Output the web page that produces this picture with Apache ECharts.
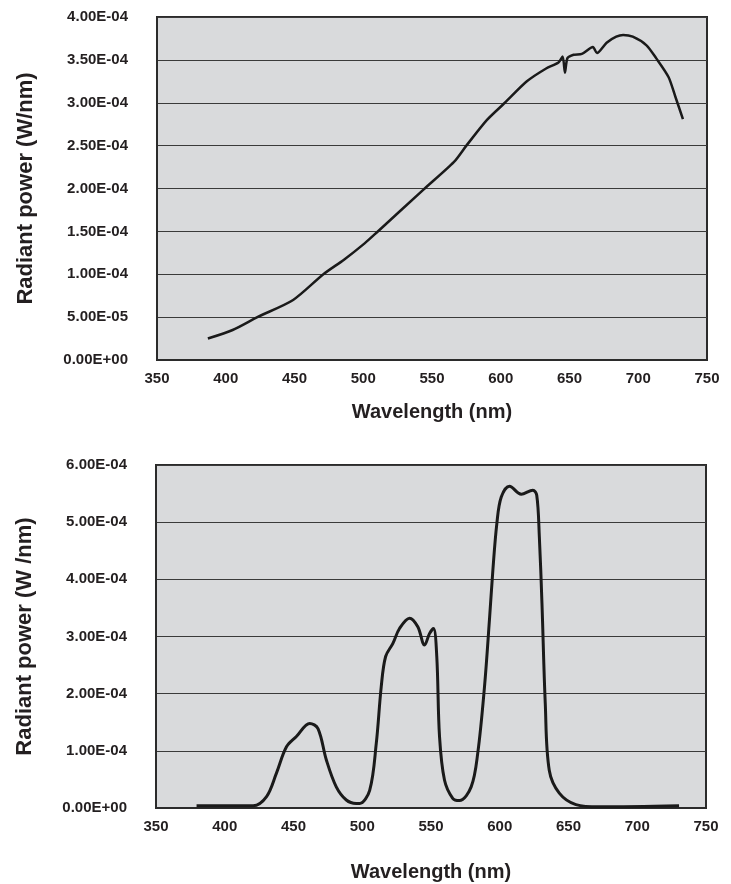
<!DOCTYPE html>
<html>
<head>
<meta charset="utf-8">
<script src="https://cdn.jsdelivr.net/npm/echarts@6/dist/echarts.min.js"></script>
<style>
  html, body { margin: 0; padding: 0; background: #fff; }
  #chart { width: 731px; height: 884px; }
</style>
</head>
<body>
<div id="chart"></div>
<script>
// power values are in units of 1e-4 W/nm
const SCALE = 1e-4;

// top: broadband (incandescent-like) spectrum
const topWave  = [387, 405, 423, 449, 471, 486, 501, 510, 544, 566, 575, 590, 603, 619, 633, 642, 645, 646.7, 648.5, 653, 659, 667, 670, 677, 684, 689, 696, 706, 713, 722, 727, 732.5];
const topPower = [0.25, 0.35, 0.50, 0.70, 1.00, 1.17, 1.36, 1.49, 1.99, 2.31, 2.50, 2.80, 3.00, 3.25, 3.40, 3.47, 3.54, 3.35, 3.52, 3.56, 3.57, 3.65, 3.58, 3.70, 3.77, 3.79, 3.77, 3.67, 3.52, 3.30, 3.07, 2.81];

// bottom: three-band spectrum
const botWave  = [379.5, 420.6, 430.4, 437.6, 444.9, 452.1, 461.8, 467.8, 473.9, 481.1, 488.4, 495.6, 498.1, 505.4, 510.2, 513.8, 517, 522.3, 527.1, 534.4, 540.4, 545.3, 548.9, 551.8, 554.2, 556.2, 559.8, 565.8, 570.7, 579.2, 584, 588.9, 592.5, 595, 597.9, 601.1, 607.1, 615.6, 624, 626.9, 628.8, 630.7, 633.1, 636, 643.3, 655.4, 672.3, 730.4];
const botPower = [0.04, 0.04, 0.20, 0.61, 1.07, 1.25, 1.48, 1.39, 0.84, 0.37, 0.14, 0.08, 0.08, 0.31, 1.13, 2.12, 2.65, 2.88, 3.14, 3.32, 3.17, 2.85, 3.05, 3.14, 2.65, 1.25, 0.49, 0.17, 0.13, 0.37, 0.96, 2.12, 3.29, 4.16, 4.98, 5.44, 5.63, 5.49, 5.56, 5.47, 4.74, 3.58, 1.83, 0.66, 0.26, 0.06, 0.02, 0.04];

const xTicks = [350, 750, 50];
const topY = [0, 4e-4, 5e-5];
const botY = [0, 6e-4, 1e-4];

const FONT = "'Liberation Sans', Arial, sans-serif";
const INK = '#231f20';

function pairs(w, p) {
  return w.map((x, i) => [x, p[i] * SCALE]);
}

function sci(v) {
  if (Math.abs(v) < 1e-12) return '0.00E+00';
  let s = v.toExponential(2).split('e');
  let e = parseInt(s[1], 10);
  let sign = e < 0 ? '-' : '+';
  e = Math.abs(e);
  return s[0] + 'E' + sign + (e < 10 ? '0' + e : '' + e);
}

function xAxis(idx, gap) {
  return {
    type: 'value', gridIndex: idx,
    min: xTicks[0], max: xTicks[1], interval: xTicks[2],
    name: 'Wavelength (nm)', nameLocation: 'middle', nameGap: gap,
    nameTextStyle: { fontFamily: FONT, fontWeight: 'bold', fontSize: 20, color: INK, verticalAlign: 'top' },
    axisLine: { show: true, lineStyle: { color: '#2b2b2b', width: 2 } },
    axisTick: { show: false },
    splitLine: { show: false },
    axisLabel: { fontFamily: FONT, fontWeight: 'bold', fontSize: 15, color: INK, margin: 11 }
  };
}

function yAxis(idx, rng, name) {
  return {
    type: 'value', gridIndex: idx,
    min: rng[0], max: rng[1], interval: rng[2],
    name: name, nameLocation: 'middle', nameGap: 120, nameRotate: 90,
    nameTextStyle: { fontFamily: FONT, fontWeight: 'bold', fontSize: 22, color: INK },
    axisLine: { show: true, lineStyle: { color: '#2b2b2b', width: 2 } },
    axisTick: { show: false },
    splitLine: { show: true, lineStyle: { color: '#3a3a3a', width: 1 } },
    axisLabel: { fontFamily: FONT, fontWeight: 'bold', fontSize: 15, color: INK, margin: 29, formatter: sci }
  };
}

const chart = echarts.init(document.getElementById('chart'), null, { renderer: 'canvas' });
chart.setOption({
  animation: false,
  backgroundColor: '#ffffff',
  grid: [
    { left: 157, right: 24, top: 17, height: 343, show: true, backgroundColor: '#d9dadc', borderColor: '#2b2b2b', borderWidth: 2 },
    { left: 156, right: 25, top: 465, height: 343, show: true, backgroundColor: '#d9dadc', borderColor: '#2b2b2b', borderWidth: 2 }
  ],
  xAxis: [xAxis(0, 42), xAxis(1, 54)],
  yAxis: [yAxis(0, topY, 'Radiant power (W/nm)'), yAxis(1, botY, 'Radiant power (W /nm)')],
  series: [
    {
      type: 'line', xAxisIndex: 0, yAxisIndex: 0,
      data: pairs(topWave, topPower),
      showSymbol: false, smooth: 0.25,
      lineStyle: { color: '#1a1a1a', width: 2.5 }
    },
    {
      type: 'line', xAxisIndex: 1, yAxisIndex: 1,
      data: pairs(botWave, botPower),
      showSymbol: false, smooth: 0.35,
      lineStyle: { color: '#1a1a1a', width: 3 }
    }
  ]
});
</script>
</body>
</html>
